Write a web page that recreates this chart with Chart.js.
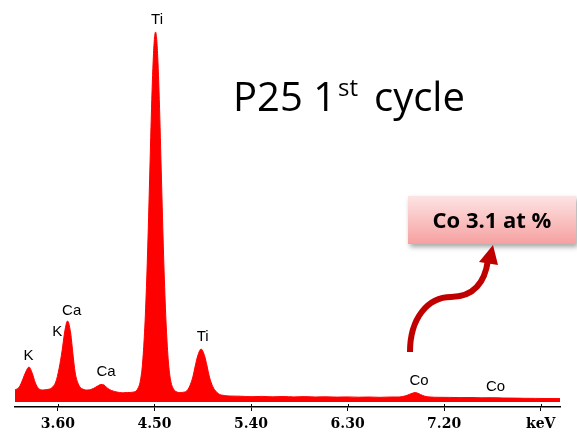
<!DOCTYPE html>
<html>
<head>
<meta charset="utf-8">
<script src="https://cdn.jsdelivr.net/npm/chart.js@4/dist/chart.umd.min.js"></script>
<style>
    body { margin: 0; background: #fff; }
    #wrap { width: 577px; height: 440px; }
</style>
</head>
<body>
<div id="wrap"><canvas id="edsChart"></canvas></div>
<script>
// spectrum (energy in keV, intensity in arbitrary counts)
const energyKeV = [
    3.20, 3.24, 3.27, 3.30, 3.33, 3.36, 3.39, 3.42, 3.46, 3.50, 3.54, 3.58,
    3.61, 3.64, 3.66, 3.68, 3.69, 3.70, 3.72, 3.74, 3.76, 3.79, 3.83, 3.88,
    3.93, 3.97, 4.00, 4.03, 4.06, 4.10, 4.15, 4.20, 4.25, 4.31, 4.35, 4.37,
    4.39, 4.41, 4.42, 4.43, 4.44, 4.45, 4.46, 4.47, 4.48, 4.49, 4.50, 4.51,
    4.52, 4.53, 4.54, 4.55, 4.56, 4.57, 4.58, 4.59, 4.60, 4.61, 4.63, 4.65,
    4.67, 4.70, 4.74, 4.78, 4.80, 4.82, 4.84, 4.86, 4.88, 4.90, 4.92, 4.935,
    4.95, 4.97, 4.99, 5.01, 5.03, 5.05, 5.07, 5.10, 5.15, 5.20, 5.30, 5.40,
    5.50, 5.60, 5.70, 5.80, 5.90, 6.00, 6.10, 6.20, 6.30, 6.40, 6.50, 6.60,
    6.70, 6.78, 6.84, 6.88, 6.91, 6.93, 6.95, 6.98, 7.02, 7.07, 7.15, 7.25,
    7.35, 7.45, 7.55, 7.65, 7.75, 7.85, 7.95, 8.05, 8.15, 8.28
];
const counts = [
    120, 150, 220, 300, 350, 290, 190, 135, 120, 125, 140, 200,
    330, 520, 680, 790, 810, 790, 680, 480, 300, 180, 130, 120,
    135, 160, 175, 170, 140, 115, 100, 92, 95, 100, 145, 220,
    400, 750, 1000, 1300, 1650, 2040, 2440, 2840, 3190, 3460, 3640, 3700,
    3640, 3460, 3190, 2840, 2440, 2040, 1650, 1300, 1000, 750, 400, 220,
    145, 105, 95, 100, 110, 140, 190, 260, 360, 450, 510, 530,
    510, 450, 360, 260, 190, 140, 110, 80, 65, 60, 58, 53,
    56, 52, 55, 51, 54, 50, 52, 49, 51, 48, 50, 47,
    50, 50, 62, 78, 90, 95, 90, 75, 58, 50, 47, 46,
    44, 45, 42, 43, 40, 39, 37, 36, 35, 34
];

const xTickValues = [3.60, 4.50, 5.40, 6.30, 7.20, 8.10];
const xTickLabels = ['3.60', '4.50', '5.40', '6.30', '7.20', 'keV'];

const peakNames = ['K', 'K', 'Ca', 'Ca', 'Ti', 'Ti', 'Co', 'Co'];
const peakLabelKeV = [3.327, 3.593, 3.728, 4.049, 4.524, 4.949, 6.966, 7.679];
const peakLabelCounts = [460, 705, 910, 300, 3820, 650, 210, 150];

const spectrumData = energyKeV.map((e, i) => ({ x: e, y: counts[i] }));

const peakLabelPlugin = {
    id: 'peakLabels',
    afterDatasetsDraw(chart) {
        const ctx = chart.ctx;
        const xs = chart.scales.x;
        const ys = chart.scales.y;
        ctx.save();
        ctx.fillStyle = '#000';
        ctx.font = '15px "Liberation Sans", Arial, sans-serif';
        ctx.textAlign = 'center';
        ctx.textBaseline = 'middle';
        peakNames.forEach((name, i) => {
            ctx.fillText(name, xs.getPixelForValue(peakLabelKeV[i]), ys.getPixelForValue(peakLabelCounts[i]));
        });
        ctx.restore();
    }
};

const decorPlugin = {
    id: 'decor',
    afterDraw(chart) {
        const ctx = chart.ctx;
        const xs = chart.scales.x;
        const axisY = chart.chartArea.bottom;
        ctx.save();

        // tick marks poke a little above the axis line too
        ctx.strokeStyle = '#000';
        ctx.lineWidth = 1;
        xTickValues.forEach(v => {
            const px = Math.round(xs.getPixelForValue(v)) + 0.5;
            ctx.beginPath();
            ctx.moveTo(px, axisY - 3);
            ctx.lineTo(px, axisY);
            ctx.stroke();
        });

        // title
        ctx.fillStyle = '#000';
        ctx.textBaseline = 'alphabetic';
        ctx.textAlign = 'left';
        ctx.font = '40px "Open Sans", sans-serif';
        ctx.fillText('P25 1', 233, 111);
        ctx.font = '24px "Open Sans", sans-serif';
        ctx.fillText('st', 338, 96);
        ctx.font = '40px "Open Sans", sans-serif';
        ctx.fillText('cycle', 374, 111);

        // callout box
        ctx.save();
        ctx.shadowColor = 'rgba(0,0,0,0.35)';
        ctx.shadowBlur = 5;
        ctx.shadowOffsetX = 2;
        ctx.shadowOffsetY = 3;
        const grad = ctx.createLinearGradient(0, 196, 0, 244);
        grad.addColorStop(0, '#fde4e4');
        grad.addColorStop(1, '#f6a0a0');
        ctx.fillStyle = grad;
        ctx.fillRect(408, 196, 168, 48);
        ctx.restore();
        ctx.fillStyle = '#000';
        ctx.font = 'bold 22px "Open Sans", sans-serif';
        ctx.textAlign = 'center';
        ctx.textBaseline = 'middle';
        ctx.fillText('Co 3.1 at %', 492, 222);

        // curved arrow
        ctx.strokeStyle = '#c00000';
        ctx.fillStyle = '#c00000';
        ctx.lineWidth = 6;
        ctx.beginPath();
        ctx.moveTo(410, 352);
        ctx.bezierCurveTo(410, 318, 428, 297, 451, 297);
        ctx.bezierCurveTo(474, 297, 485, 282, 488, 260);
        ctx.stroke();
        ctx.beginPath();
        ctx.moveTo(493, 245);
        ctx.lineTo(479, 262);
        ctx.lineTo(498, 265);
        ctx.closePath();
        ctx.fill();

        ctx.restore();
    }
};

new Chart(document.getElementById('edsChart'), {
    type: 'line',
    data: {
        datasets: [{
            data: spectrumData,
            borderColor: '#ff0000',
            backgroundColor: '#ff0000',
            borderWidth: 1,
            fill: 'origin',
            pointRadius: 0,
            cubicInterpolationMode: 'monotone'
        }]
    },
    options: {
        responsive: true,
        maintainAspectRatio: false,
        animation: false,
        layout: { padding: { left: 15, right: 17, top: 20, bottom: 0 } },
        plugins: { legend: { display: false }, tooltip: { enabled: false } },
        scales: {
            x: {
                type: 'linear',
                min: 3.20,
                max: 8.28,
                afterBuildTicks: (s) => { s.ticks = xTickValues.map(v => ({ value: v })); },
                afterFit: (s) => { s.height = 33; },
                border: { display: true, color: '#000', width: 1.5 },
                grid: { drawOnChartArea: false, drawTicks: true, tickLength: 4, color: '#000' },
                ticks: {
                    autoSkip: false,
                    maxRotation: 0,
                    padding: 5,
                    color: '#000',
                    font: { family: '"DejaVu Serif", serif', size: 14, weight: 'bold' },
                    callback: (v, i) => xTickLabels[i]
                }
            },
            y: {
                display: false,
                min: -50,
                max: 3820
            }
        }
    },
    plugins: [peakLabelPlugin, decorPlugin]
});
</script>
</body>
</html>
